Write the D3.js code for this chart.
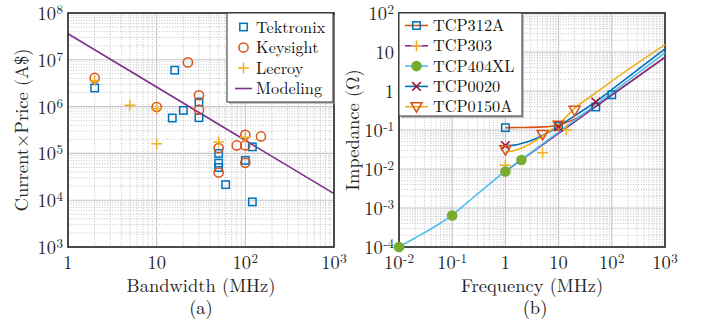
<!DOCTYPE html>
<html>
<head>
<meta charset="utf-8">
<script src="https://cdn.jsdelivr.net/npm/d3@7"></script>
<style>
  body { margin: 0; background: #fff; }
  svg { display: block; }
</style>
</head>
<body>
<svg id="chart" width="701" height="325"></svg>
<script>
// ---- (a) Current x Price vs bandwidth ----
const tekBw = [2, 16, 15, 20, 30, 30, 50, 50, 50, 60, 100, 120, 120]
const tekCp = [2.5e6, 6e6, 5.7e5, 8.3e5, 1.25e6, 5.8e5, 1.0e5, 6.2e4, 5e4, 2.15e4, 7.1e4, 1.38e5, 9.2e3]
const keyBw = [2, 10, 22.5, 30, 30, 50, 50, 80, 100, 100, 100, 150]
const keyCp = [4.1e6, 9.8e5, 8.8e6, 1.75e6, 8.6e5, 1.3e5, 3.9e4, 1.48e5, 2.5e5, 1.48e5, 6.3e4, 2.3e5]
const lecBw = [2, 5, 10, 10, 50, 100]
const lecCp = [3.6e6, 1.07e6, 9e5, 1.6e5, 1.75e5, 2.2e5]
const modBw = [1, 1000]
const modCp = [3.6e7, 1.38e4]
const aXTicks = [1, 10, 100, 1000]
const aYTicks = [1e3, 1e4, 1e5, 1e6, 1e7, 1e8]

// ---- (b) impedance vs frequency: measured points ----
const p312F = [1, 10, 50, 100]
const p312Z = [0.115, 0.125, 0.39, 0.8]
const p303F = [1, 5, 14]
const p303Z = [0.0124, 0.026, 0.102]
const p404F = [0.01, 0.1, 1, 2]
const p404Z = [1e-4, 6.4e-4, 8.6e-3, 1.7e-2]
const p0020F = [1, 10, 50]
const p0020Z = [0.04, 0.12, 0.52]
const p0150F = [1, 5, 10, 20]
const p0150Z = [0.031, 0.077, 0.133, 0.32]
// fitted curves
const l312F = [1, 2, 5, 10, 20, 50, 100, 200, 500, 1000]
const l312Z = [0.115, 0.116, 0.12, 0.135, 0.19, 0.41, 0.8, 1.55, 3.8, 7.4]
const l303F = [1, 10, 100, 1000]
const l303Z = [0.0087, 0.082, 0.78, 7.3]
const l404F = [0.01, 0.02, 0.05, 0.1, 0.2, 0.5, 1, 2, 10, 100, 1000]
const l404Z = [1e-4, 1.7e-4, 3.5e-4, 6.6e-4, 1.45e-3, 4.1e-3, 8.8e-3, 1.75e-2, 0.088, 0.9, 9.5]
const l0020F = [1, 1.5, 2, 3, 5, 7, 10, 20, 50, 100, 1000]
const l0020Z = [0.04, 0.041, 0.045, 0.053, 0.072, 0.092, 0.125, 0.23, 0.53, 1.08, 12]
const l0150F = [1, 1.5, 2, 3, 5, 7, 10, 20, 50, 100, 1000]
const l0150Z = [0.027, 0.03, 0.034, 0.045, 0.07, 0.097, 0.14, 0.36, 0.9, 1.8, 15.5]
const bXTicks = [1e-2, 1e-1, 1, 10, 100, 1000]
const bYTicks = [1e-4, 1e-3, 1e-2, 1e-1, 1, 10, 100]

const C = {
  blue: '#0072BD', orange: '#D95319', yellow: '#EDB120', purple: '#7E2F8E',
  green: '#77AC30', cyan: '#4DBEEE', red: '#A2142F'
}
const FONT = "'Latin Modern Roman', 'Liberation Serif', serif"
const FS = 18.5

const svg = d3.select('#chart').attr('font-family', FONT)
svg.append('rect').attr('width', 701).attr('height', 325).attr('fill', '#fff')

const zip = (xs, ys) => xs.map((v, i) => [v, ys[i]])

/**
 * Draws a log/log frame with grid, ticks labels, and returns scales + group.
 */
function panel(box, xDom, yDom, xTicks, yTicks) {
  const x = d3.scaleLog().domain(xDom).range([box.x0, box.x1])
  const y = d3.scaleLog().domain(yDom).range([box.y1, box.y0])
  const g = svg.append('g')

  // minor grid (dotted)
  const minor = (dom) => {
    const out = []
    for (let e = Math.round(Math.log10(dom[0])); e < Math.round(Math.log10(dom[1])); e++)
      for (let k = 2; k <= 9; k++) out.push(k * Math.pow(10, e))
    return out
  }
  g.selectAll('.mx').data(minor(xDom)).join('line')
    .attr('x1', d => x(d)).attr('x2', d => x(d)).attr('y1', box.y0).attr('y2', box.y1)
    .attr('stroke', '#b4b4b4').attr('stroke-width', 0.8).attr('stroke-dasharray', '1,1.6')
  g.selectAll('.my').data(minor(yDom)).join('line')
    .attr('y1', d => y(d)).attr('y2', d => y(d)).attr('x1', box.x0).attr('x2', box.x1)
    .attr('stroke', '#b4b4b4').attr('stroke-width', 0.8).attr('stroke-dasharray', '1,1.6')
  // major grid
  g.selectAll('.gx').data(xTicks).join('line')
    .attr('x1', d => x(d)).attr('x2', d => x(d)).attr('y1', box.y0).attr('y2', box.y1)
    .attr('stroke', '#c6c6c6').attr('stroke-width', 1.1)
  g.selectAll('.gy').data(yTicks).join('line')
    .attr('y1', d => y(d)).attr('y2', d => y(d)).attr('x1', box.x0).attr('x2', box.x1)
    .attr('stroke', '#c6c6c6').attr('stroke-width', 1.1)

  const label = (sel, v) => {
    const e = Math.round(Math.log10(v))
    if (e === 0) { sel.text('1'); return }
    if (e === 1) { sel.text('10'); return }
    sel.append('tspan').text('10')
    sel.append('tspan').attr('dy', -6).attr('dx', 0.5).attr('font-size', 13).text(e < 0 ? '-' + (-e) : e)
  }
  g.selectAll('.tx').data(xTicks).join('text')
    .attr('x', d => x(d)).attr('y', box.y1 + 22)
    .attr('text-anchor', 'middle').attr('font-size', FS).attr('fill', '#262626')
    .each(function(d) { label(d3.select(this), d) })
  g.selectAll('.ty').data(yTicks).join('text')
    .attr('x', box.x0 - 5).attr('y', d => y(d) + 7)
    .attr('text-anchor', 'end').attr('font-size', FS).attr('fill', '#262626')
    .each(function(d) { label(d3.select(this), d) })

  const plot = svg.append('g')
  return { x, y, g, plot }
}

function frame(box) {
  svg.append('rect')
    .attr('x', box.x0).attr('y', box.y0)
    .attr('width', box.x1 - box.x0).attr('height', box.y1 - box.y0)
    .attr('fill', 'none').attr('stroke', '#262626').attr('stroke-width', 1.6)
}

// marker shapes
const shapes = {
  square: (s, c) => s.append('rect').attr('x', -3.7).attr('y', -3.7).attr('width', 7.4).attr('height', 7.4)
    .attr('fill', 'none').attr('stroke', c).attr('stroke-width', 1.5),
  circle: (s, c) => s.append('circle').attr('r', 4.6).attr('fill', 'none').attr('stroke', c).attr('stroke-width', 1.5),
  plus: (s, c) => s.append('path').attr('d', 'M-5.5,0H5.5M0,-5.5V5.5').attr('stroke', c).attr('stroke-width', 1.5),
  dot: (s, c) => s.append('circle').attr('r', 5.3).attr('fill', c),
  cross: (s, c) => s.append('path').attr('d', 'M-4.3,-4.3L4.3,4.3M-4.3,4.3L4.3,-4.3').attr('stroke', c).attr('stroke-width', 1.6),
  tri: (s, c) => s.append('path').attr('d', 'M-5.5,-4L5.5,-4L0,5.5Z').attr('fill', 'none').attr('stroke', c).attr('stroke-width', 1.5)
}

function markers(p, pts, shape, color) {
  p.plot.append('g').selectAll('g').data(pts).join('g')
    .attr('transform', d => `translate(${p.x(d[0])},${p.y(d[1])})`)
    .each(function() { shapes[shape](d3.select(this), color) })
}

function curve(p, pts, color, width) {
  const line = d3.line().x(d => p.x(d[0])).y(d => p.y(d[1])).curve(d3.curveMonotoneX)
  p.plot.append('path').datum(pts).attr('d', line)
    .attr('fill', 'none').attr('stroke', color).attr('stroke-width', width || 1.6)
}

function legend(box, rows) {
  const g = svg.append('g')
  g.append('rect').attr('x', box.x + 2).attr('y', box.y + 2).attr('width', box.w).attr('height', box.h)
    .attr('fill', '#9a9a9a').attr('opacity', 0.6)
  g.append('rect').attr('x', box.x).attr('y', box.y).attr('width', box.w).attr('height', box.h)
    .attr('fill', '#fff').attr('stroke', '#333').attr('stroke-width', 1)
  rows.forEach((r, i) => {
    const cy = box.y + box.first + i * box.step
    const row = g.append('g')
    if (r.line) {
      row.append('line').attr('x1', box.lx0).attr('x2', box.lx1).attr('y1', cy).attr('y2', cy)
        .attr('stroke', r.line).attr('stroke-width', 1.6)
    }
    if (r.shape) {
      const m = row.append('g').attr('transform', `translate(${(box.lx0 + box.lx1) / 2},${cy})`)
      shapes[r.shape](m, r.color)
    }
    row.append('text').attr('x', box.tx).attr('y', cy + 5.5).attr('font-size', 16.3)
      .attr('fill', '#111').text(r.name)
  })
}

// ---------- panel (a) ----------
const boxA = { x0: 68, x1: 334, y0: 13, y1: 247 }
const pa = panel(boxA, [1, 1000], [1e3, 1e8], aXTicks, aYTicks)
curve(pa, zip(modBw, modCp), C.purple, 1.6)
markers(pa, zip(tekBw, tekCp), 'square', C.blue)
markers(pa, zip(keyBw, keyCp), 'circle', C.orange)
markers(pa, zip(lecBw, lecCp), 'plus', C.yellow)
frame(boxA)

legend({ x: 227, y: 13, w: 106, h: 89, first: 14, step: 20.5, lx0: 235, lx1: 252, tx: 256 }, [
  { name: 'Tektronix', shape: 'square', color: C.blue },
  { name: 'Keysight', shape: 'circle', color: C.orange },
  { name: 'Lecroy', shape: 'plus', color: C.yellow },
  { name: 'Modeling', line: C.purple }
])

svg.append('text').attr('x', 201).attr('y', 292).attr('text-anchor', 'middle')
  .attr('font-size', FS).attr('fill', '#262626').text('Bandwidth (MHz)')
svg.append('text').attr('transform', 'translate(28,130) rotate(-90)').attr('text-anchor', 'middle')
  .attr('font-size', FS).attr('fill', '#262626').text('Current×Price (A$)')
svg.append('text').attr('x', 201).attr('y', 314).attr('text-anchor', 'middle')
  .attr('font-size', FS).attr('fill', '#111').text('(a)')

// ---------- panel (b) ----------
const boxB = { x0: 399, x1: 665, y0: 13, y1: 247 }
const pb = panel(boxB, [1e-2, 1e3], [1e-4, 1e2], bXTicks, bYTicks)
curve(pb, zip(l312F, l312Z), C.orange)
curve(pb, zip(l303F, l303Z), C.purple)
curve(pb, zip(l404F, l404Z), C.cyan)
curve(pb, zip(l0020F, l0020Z), C.blue)
curve(pb, zip(l0150F, l0150Z), C.yellow)
markers(pb, zip(p312F, p312Z), 'square', C.blue)
markers(pb, zip(p303F, p303Z), 'plus', C.yellow)
markers(pb, zip(p404F, p404Z), 'dot', C.green)
markers(pb, zip(p0020F, p0020Z), 'cross', C.red)
markers(pb, zip(p0150F, p0150Z), 'tri', C.orange)
frame(boxB)
// the corner dot sits on top of the frame in the original
pb.plot.raise()

legend({ x: 399, y: 13, w: 123, h: 103, first: 12.5, step: 20.3, lx0: 405, lx1: 428, tx: 433 }, [
  { name: 'TCP312A', line: C.orange, shape: 'square', color: C.blue },
  { name: 'TCP303', line: C.purple, shape: 'plus', color: C.yellow },
  { name: 'TCP404XL', line: C.cyan, shape: 'dot', color: C.green },
  { name: 'TCP0020', line: C.blue, shape: 'cross', color: C.red },
  { name: 'TCP0150A', line: C.yellow, shape: 'tri', color: C.orange }
])

svg.append('text').attr('x', 532).attr('y', 292).attr('text-anchor', 'middle')
  .attr('font-size', FS).attr('fill', '#262626').text('Frequency (MHz)')
svg.append('text').attr('transform', 'translate(359,130) rotate(-90)').attr('text-anchor', 'middle')
  .attr('font-size', FS).attr('fill', '#262626').text('Impedance (Ω)')
svg.append('text').attr('x', 535).attr('y', 314).attr('text-anchor', 'middle')
  .attr('font-size', FS).attr('fill', '#111').text('(b)')
</script>
</body>
</html>
